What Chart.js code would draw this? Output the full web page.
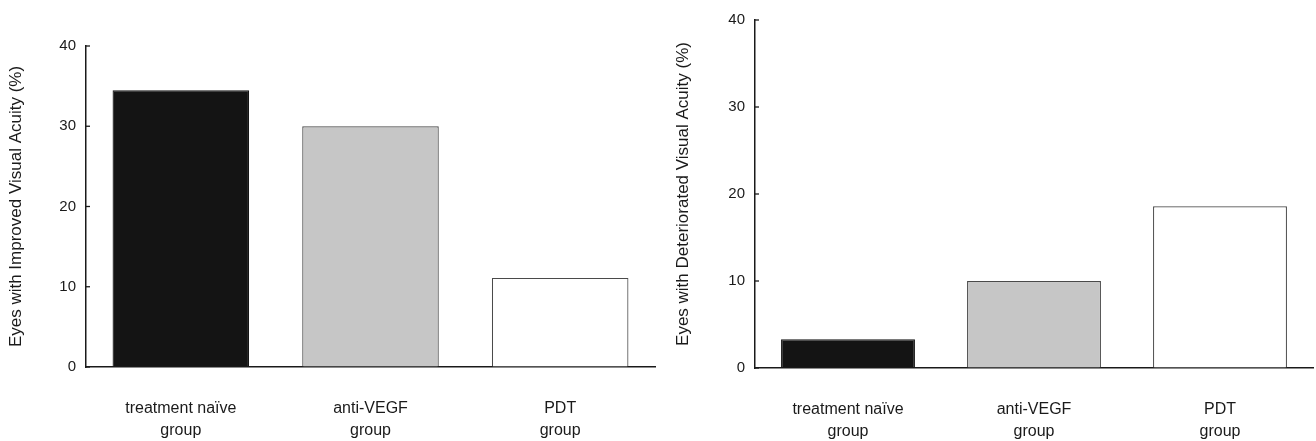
<!DOCTYPE html>
<html>
<head>
<meta charset="utf-8">
<script src="https://cdn.jsdelivr.net/npm/chart.js@4"></script>
<style>
  html, body { margin: 0; padding: 0; background: #fff; }
  #wrap { position: relative; width: 1316px; height: 441px; }
  .box { position: absolute; top: 0; }
</style>
</head>
<body>
<div id="wrap">
  <div class="box" style="left:0"><canvas id="improved" width="658" height="441"></canvas></div>
  <div class="box" style="left:658px"><canvas id="deteriorated" width="658" height="441"></canvas></div>
</div>
<script>
// data
const groups = [['treatment naïve', 'group'], ['anti-VEGF', 'group'], ['PDT', 'group']];
const improvedPct = [34.5, 30.0, 11.1];
const deterioratedPct = [3.3, 10.0, 18.6];
const yTicks = [0, 10, 20, 30, 40];

const barColors = ['#141414', '#c6c6c6', '#ffffff'];
const barBorders = ['#141414', '#4a4a4a', '#4a4a4a'];
const fontFam = '"Liberation Sans", Arial, Helvetica, sans-serif';
const ink = '#1a1a1a';

// small tick marks pointing into the plot, like the original
const innerTicks = {
  id: 'innerTicks',
  afterDatasetsDraw(chart) {
    const y = chart.scales.y;
    const ctx = chart.ctx;
    ctx.save();
    ctx.strokeStyle = ink;
    ctx.lineWidth = 1.3;
    y.ticks.forEach((t, i) => {
      const py = y.getPixelForTick(i);
      ctx.beginPath();
      ctx.moveTo(y.right, py);
      ctx.lineTo(y.right + 4, py);
      ctx.stroke();
    });
    ctx.restore();
  }
};

function makeChart(id, values, title, opt) {
  return new Chart(document.getElementById(id), {
    type: 'bar',
    data: {
      labels: groups,
      datasets: [{
        data: values,
        backgroundColor: barColors,
        borderColor: barBorders,
        borderWidth: 1.2,
        barPercentage: 0.72,
        categoryPercentage: 1
      }]
    },
    options: {
      responsive: false,
      animation: false,
      layout: { padding: { top: opt.top, right: 3, left: 0, bottom: 0 } },
      plugins: { legend: { display: false }, tooltip: { enabled: false } },
      scales: {
        x: {
          grid: { display: false },
          border: { color: ink, width: 1.5 },
          ticks: {
            color: ink,
            padding: 22,
            font: { family: fontFam, size: 16, lineHeight: 1.4 }
          },
          afterFit: s => { s.height = 441 - opt.bottom; }
        },
        y: {
          min: 0,
          max: 40,
          afterBuildTicks: s => { s.ticks = yTicks.map(v => ({ value: v })); },
          grid: { drawOnChartArea: false, drawTicks: false },
          border: { color: ink, width: 1.5 },
          ticks: {
            color: ink,
            padding: 10,
            font: { family: fontFam, size: 15 }
          },
          title: {
            display: true,
            text: title,
            color: ink,
            padding: { top: opt.titlePad, bottom: 0 },
            font: { family: fontFam, size: 17 }
          },
          afterFit: s => { s.width = opt.yWidth; }
        }
      }
    },
    plugins: [innerTicks]
  });
}

makeChart('improved', improvedPct, 'Eyes with Improved Visual Acuity (%)',
  { top: 46, bottom: 367, yWidth: 86, titlePad: 6 });
makeChart('deteriorated', deterioratedPct, 'Eyes with Deteriorated Visual Acuity (%)',
  { top: 20, bottom: 368, yWidth: 97, titlePad: 15 });
</script>
</body>
</html>
